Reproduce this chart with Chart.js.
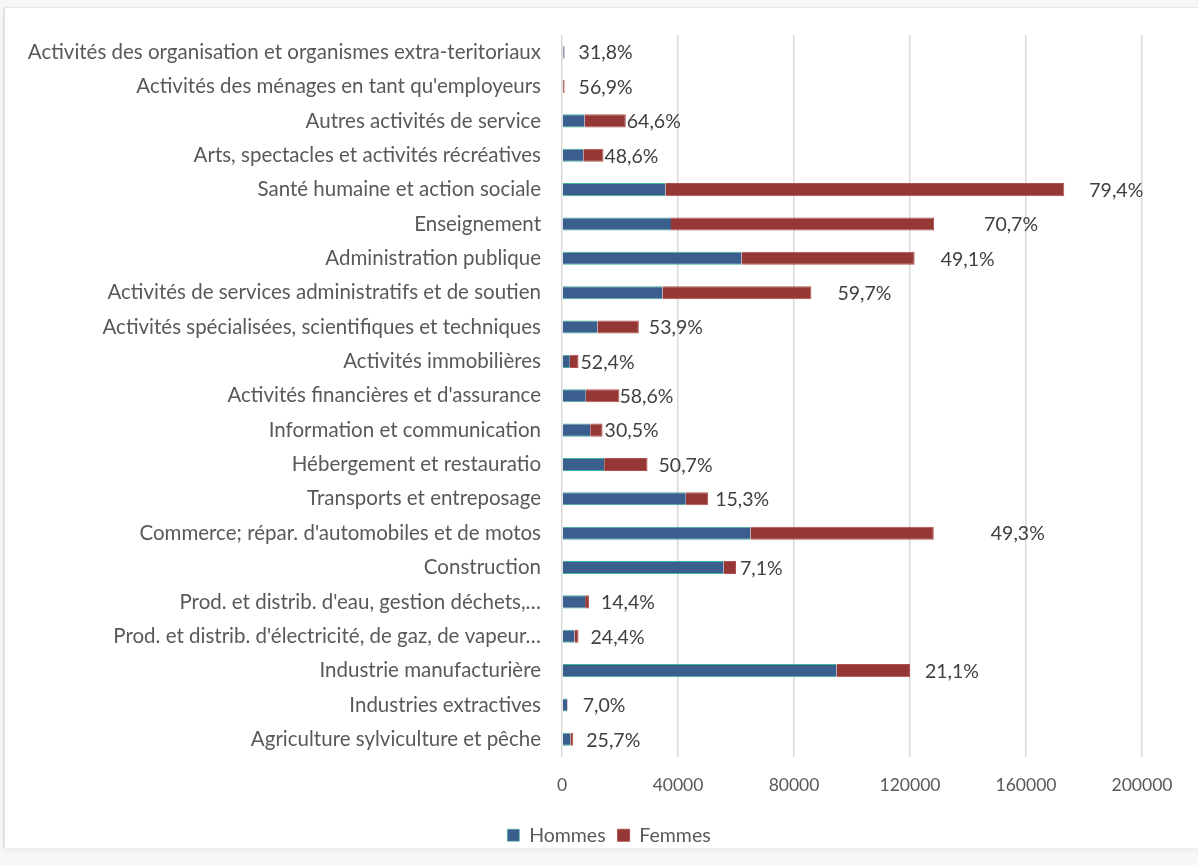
<!DOCTYPE html>
<html lang="fr">
<head>
<meta charset="utf-8">
<title>Emploi par secteur d'activité et par sexe</title>
<script src="https://cdn.jsdelivr.net/npm/chart.js@4/dist/chart.umd.min.js"></script>
<style>
  html, body { margin: 0; padding: 0; background: #f7f7f7; }
  #frame {
    position: absolute; left: 0; top: 0; width: 1198px; height: 865px;
    background: #f7f7f7; overflow: hidden;
  }
  #panel {
    position: absolute; left: 3px; top: 7px; width: 1210px; height: 840px;
    background: #ffffff; border-left: 2px solid #e3e3e3; border-top: 1px solid #e6e6e6;
    box-shadow: 0 2px 6px rgba(0,0,0,0.05);
  }
  #chart { position: absolute; left: 0; top: 0; }
</style>
</head>
<body>
<div id="frame">
  <div id="panel"></div>
  <canvas id="chart" width="1198" height="865"></canvas>
</div>
<script>
// Secteurs d'activité, du haut vers le bas
const categories = [
  "Activités des organisation et organismes extra-teritoriaux",
  "Activités des ménages en tant qu'employeurs",
  "Autres activités de service",
  "Arts, spectacles et activités récréatives",
  "Santé humaine et action sociale",
  "Enseignement",
  "Administration publique",
  "Activités de services administratifs et de soutien",
  "Activités spécialisées, scientifiques et techniques",
  "Activités immobilières",
  "Activités financières et d'assurance",
  "Information et communication",
  "Hébergement et restauratio",
  "Transports et entreposage",
  "Commerce; répar. d'automobiles et de motos",
  "Construction",
  "Prod. et distrib. d'eau, gestion déchets,…",
  "Prod. et distrib. d'électricité, de gaz, de vapeur…",
  "Industrie manufacturière",
  "Industries extractives",
  "Agriculture sylviculture et pêche"
];

// Effectifs salariés
const hommes = [
  610, 390, 7790, 7350, 35680, 37590, 61890, 34660, 12220, 2710, 8200,
  9730, 14540, 42690, 65000, 55740, 7960, 4310, 94680, 1860, 2900
];
const femmes = [
  290, 510, 14210, 6950, 137520, 90710, 59710, 51340, 14280, 2990, 11600,
  4270, 14960, 7710, 63200, 4260, 1340, 1390, 25320, 140, 1000
];

// Part des femmes (%)
const partFemmes = [
  31.8, 56.9, 64.6, 48.6, 79.4, 70.7, 49.1, 59.7, 53.9, 52.4, 58.6,
  30.5, 50.7, 15.3, 49.3, 7.1, 14.4, 24.4, 21.1, 7.0, 25.7
];

// Graduations de l'axe horizontal
const xTicks = [0, 40000, 80000, 120000, 160000, 200000];

// Décalage horizontal (px) de chaque étiquette après la barre
const labelShift = [
  13, 13, 0, 0, 24, 49, 25, 25, 9, 1, -1,
  1, 10, 6, 56, 3, 11, 11, 14, 14, 12
];

const FONT = "Lato, 'Open Sans', 'Liberation Sans', sans-serif";
const fmtPct = v => v.toFixed(1).replace('.', ',') + '%';

const pctLabels = {
  id: 'pctLabels',
  afterDatasetsDraw(chart) {
    const ctx = chart.ctx;
    const meta = chart.getDatasetMeta(1);
    ctx.save();
    ctx.font = "19.5px " + FONT;
    ctx.fillStyle = '#404040';
    ctx.textAlign = 'left';
    ctx.textBaseline = 'middle';
    meta.data.forEach((bar, i) => {
      ctx.fillText(fmtPct(partFemmes[i]), bar.x + labelShift[i] + 1, bar.y + 1);
    });
    ctx.restore();
  }
};

new Chart(document.getElementById('chart'), {
  type: 'bar',
  data: {
    labels: categories,
    datasets: [
      {
        label: 'Hommes',
        data: hommes,
        backgroundColor: '#3a5f8e',
        borderColor: '#3fb39b',
        borderWidth: { top: 1, bottom: 1, left: 0, right: 0 },
        borderSkipped: false,
        barPercentage: 0.76,
        categoryPercentage: 0.5
      },
      {
        label: 'Femmes',
        data: femmes,
        backgroundColor: '#943735',
        borderColor: '#b4504e',
        borderWidth: 1,
        borderSkipped: 'start',
        barPercentage: 0.76,
        categoryPercentage: 0.5
      }
    ]
  },
  options: {
    indexAxis: 'y',
    responsive: false,
    animation: false,
    devicePixelRatio: 1,
    layout: { padding: { left: 20, right: 0, top: 35, bottom: 10 } },
    scales: {
      x: {
        stacked: true,
        min: 0,
        max: 200000,
        afterBuildTicks: s => { s.ticks = xTicks.map(v => ({ value: v })); },
        ticks: {
          color: '#595959',
          font: { family: FONT, size: 17.5 },
          padding: 18,
          callback: v => String(v)
        },
        grid: { color: '#d9d9d9', lineWidth: 1.5, drawTicks: false },
        border: { display: false }
      },
      y: {
        stacked: true,
        afterFit: s => { s.width = 542; },
        ticks: {
          color: '#595959',
          font: { family: FONT, size: 20.5 },
          padding: 21,
          autoSkip: false
        },
        grid: { display: false, drawTicks: false },
        border: { display: false }
      },
      // marge droite réservée aux étiquettes de pourcentage
      yMarge: {
        type: 'linear',
        position: 'right',
        display: true,
        afterFit: s => { s.width = 56; },
        ticks: { display: false },
        grid: { display: false, drawTicks: false },
        border: { display: false }
      }
    },
    plugins: {
      legend: {
        position: 'bottom',
        labels: {
          color: '#595959',
          font: { family: FONT, size: 19.5 },
          boxWidth: 12,
          boxHeight: 12,
          padding: 12
        }
      },
      tooltip: { enabled: false }
    }
  },
  plugins: [pctLabels]
});
</script>
</body>
</html>
